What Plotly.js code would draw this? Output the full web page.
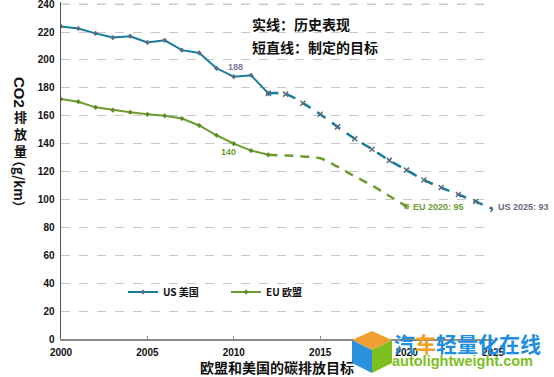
<!DOCTYPE html>
<html><head><meta charset="utf-8">
<script src="https://cdn.plot.ly/plotly-3.0.1.min.js"></script>
<style>html,body{margin:0;padding:0;background:#fff}#c{width:554px;height:377px}</style>
</head><body><div id="c"></div>
<script>
// Historical data (solid)
const histYears = [2000,2001,2002,2003,2004,2005,2006,2007,2008,2009,2010,2011,2012];
const usHist = [224,222.5,219,216,217,212.5,214,207,205,194,188,189,176];
const euHist = [172,170,166,164,162.5,161,160,158,153,146,140,135,132];
// Target paths (dashed)
const usTargetYears = [2012,2013,2014,2015,2016,2017,2018,2019,2020,2021,2022,2023,2024,2025];
const usTarget = [176,175.5,169,161,152,143.5,136,128,121,114,108.5,103.5,98.5,93];
const euTargetYears = [2012,2013,2014,2015,2016,2017,2018,2019,2020];
const euTarget = [132,131.5,130.8,129.5,123.5,116.5,110,102.5,95];
const xTicks = [2000,2005,2010,2015,2020,2025];
const yTicks = [0,20,40,60,80,100,120,140,160,180,200,220,240];
const seriesNames = ['US 美国','EU 欧盟'];

const usColor = '#147c9c', euColor = '#6e9c30', mkUS = '#5b6b80', mkEU = '#5f8a2a';
const F = 'Liberation Sans, Arial, Noto Sans CJK SC, sans-serif';
const CJK = 'Noto Sans CJK SC, Liberation Sans, sans-serif';

const traces = [
  {x: histYears, y: usHist, name: seriesNames[0], mode: 'lines+markers',
   line: {color: usColor, width: 2}, marker: {color: mkUS, size: 4, symbol: 'diamond'}},
  {x: histYears, y: euHist, name: seriesNames[1], mode: 'lines+markers',
   line: {color: euColor, width: 2}, marker: {color: mkEU, size: 4, symbol: 'diamond'}},
  {x: usTargetYears, y: usTarget, mode: 'lines+markers', showlegend: false,
   line: {color: usColor, width: 2.5, dash: '10px,8px', shape: 'spline'},
   marker: {color: mkUS, size: 5, symbol: 'x-thin', line: {color: mkUS, width: 1.5}}},
  {x: euTargetYears, y: euTarget, mode: 'lines+markers', showlegend: false,
   line: {color: euColor, width: 2.5, dash: '9px,7px', shape: 'spline'},
   marker: {color: mkEU, size: euTarget.map((v,i)=> i===euTarget.length-1 ? 5 : 0), symbol: 'asterisk-open', line:{color: mkEU, width: 1.5}}}
];

const lastUS = usTarget.length-1, lastEU = euTarget.length-1;
const i2010 = histYears.indexOf(2010);
const px = v => (v-61)/432, py = v => (339-v)/337;
const annotations = [
  {x: histYears[i2010], y: usHist[i2010], text: String(usHist[i2010]), showarrow: false, xshift: 2, yshift: 10,
   font: {family: F, size: 9, color: '#7a7a9a', weight: 'bold'}},
  {x: histYears[i2010], y: euHist[i2010], text: String(euHist[i2010]), showarrow: false, xshift: -5, yshift: -8,
   font: {family: F, size: 9, color: euColor, weight: 'bold'}},
  {x: euTargetYears[lastEU], y: euTarget[lastEU], text: 'EU 2020: ' + euTarget[lastEU], showarrow: false, xanchor: 'left', xshift: 4, yshift: -1,
   font: {family: F, size: 9, color: euColor, weight: 'bold'}},
  {x: usTargetYears[lastUS], y: usTarget[lastUS], text: 'US 2025: ' + usTarget[lastUS], showarrow: false, xanchor: 'left', xshift: 3, yshift: 2,
   font: {family: F, size: 9, color: '#6a6a80', weight: 'bold'}},
  {xref: 'paper', yref: 'paper', x: px(250), y: py(24), xanchor: 'left', yanchor: 'middle', text: '实线：历史表现', showarrow: false,
   font: {family: CJK, size: 14, color: '#111', weight: 'bold'}},
  {xref: 'paper', yref: 'paper', x: px(250), y: py(47), xanchor: 'left', yanchor: 'middle', text: '短直线：制定的目标', showarrow: false,
   font: {family: CJK, size: 14, color: '#111', weight: 'bold'}},
  // y axis title (mixed orientation)
  {xref: 'paper', yref: 'paper', x: px(20), y: py(92), xanchor: 'center', yanchor: 'middle', text: 'CO2', textangle: 90, showarrow: false,
   font: {family: F, size: 15, color: '#111', weight: 'bold'}},
  {xref: 'paper', yref: 'paper', x: px(20), y: py(133), xanchor: 'center', yanchor: 'middle', text: '排<br>放<br>量', showarrow: false,
   font: {family: CJK, size: 13, color: '#111', weight: 'bold'}},
  {xref: 'paper', yref: 'paper', x: px(20), y: py(184), xanchor: 'center', yanchor: 'middle', text: '（g/km）', textangle: 90, showarrow: false,
   font: {family: CJK, size: 13, color: '#111', weight: 'bold'}},
  // watermark
  {xref: 'paper', yref: 'paper', x: px(392), y: py(343), xanchor: 'left', yanchor: 'middle', showarrow: false,
   text: '汽<span style="color:#f0a020">车</span>轻量化在线',
   font: {family: CJK, size: 21, color: '#1e8fe0', weight: 'bold'}},
  {xref: 'paper', yref: 'paper', x: px(390), y: py(361), xanchor: 'left', yanchor: 'middle', showarrow: false,
   text: 'autolightweight.com',
   font: {family: F, size: 14.5, color: '#7cbf1e', weight: 'bold'}}
];

const shapes = [
  // top gridline (Plotly drops the gridline at the plot edge)
  {type: 'line', xref: 'paper', yref: 'y', x0: 0, x1: 1, y0: yTicks[yTicks.length-1], y1: yTicks[yTicks.length-1],
   line: {color: '#c8c8c8', width: 1, dash: 'dash'}, layer: 'below'},
  // watermark cube logo
  {type: 'path', xref: 'paper', yref: 'paper', layer: 'above', line: {width: 0}, fillcolor: '#f0a030',
   path: `M ${px(372)} ${py(331)} L ${px(392)} ${py(340)} L ${px(372)} ${py(350)} L ${px(352)} ${py(340)} Z`},
  {type: 'path', xref: 'paper', yref: 'paper', layer: 'above', line: {width: 0}, fillcolor: '#2a92dc',
   path: `M ${px(352)} ${py(340)} L ${px(372)} ${py(350)} L ${px(372)} ${py(373)} L ${px(352)} ${py(363)} Z`},
  {type: 'path', xref: 'paper', yref: 'paper', layer: 'above', line: {width: 0}, fillcolor: '#7cbf1e',
   path: `M ${px(372)} ${py(350)} L ${px(392)} ${py(340)} L ${px(392)} ${py(363)} L ${px(372)} ${py(373)} Z`}
];

const layout = {
  width: 554, height: 377,
  margin: {l: 61, r: 61, t: 2, b: 38},
  paper_bgcolor: '#fff', plot_bgcolor: '#fff',
  font: {family: F, color: '#111'},
  showlegend: true,
  legend: {orientation: 'h', x: px(123), y: py(292), xanchor: 'left', yanchor: 'middle',
           bgcolor: 'rgba(0,0,0,0)', font: {family: CJK, size: 10, color: '#111', weight: 'bold'},
           entrywidth: 58, entrywidthmode: 'pixels', itemwidth: 30},
  xaxis: {range: [2000, 2025], tickvals: xTicks, ticktext: xTicks.map(String), showgrid: false, zeroline: false,
          showline: true, linecolor: '#8a8a8a', linewidth: 2, ticks: 'inside', ticklen: 3, tickcolor: '#8a8a8a',
          tickfont: {family: F, size: 10, color: '#111', weight: 'bold'}, ticklabelstandoff: 3, ticklabeloverflow: 'allow',
          title: {text: '欧盟和美国的碳排放目标', font: {family: CJK, size: 14, color: '#111', weight: 'bold'}, standoff: 5}},
  yaxis: {range: [0, 241.5], tickvals: yTicks, ticktext: yTicks.map(String), showgrid: true, gridcolor: '#c8c8c8', griddash: 'dash', gridwidth: 1,
          zeroline: false, showline: true, linecolor: '#555', linewidth: 1.5, ticks: '', ticklabeloverflow: 'allow',
          tickfont: {family: F, size: 10, color: '#111', weight: 'bold'}, ticklabelstandoff: 3},
  annotations: annotations,
  shapes: shapes
};
Plotly.newPlot('c', traces, layout, {displayModeBar: false, staticPlot: true});
</script></body></html>
